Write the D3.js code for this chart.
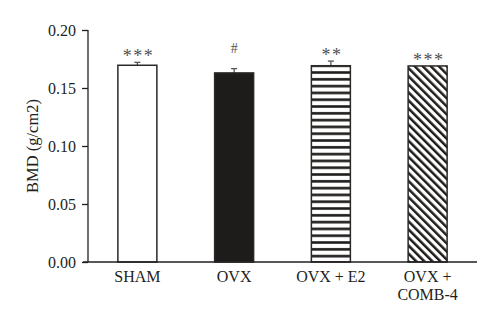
<!DOCTYPE html>
<html>
<head>
<meta charset="utf-8">
<script src="https://cdn.jsdelivr.net/npm/d3@7"></script>
<style>
  html, body { margin: 0; padding: 0; background: #fff; }
  svg { display: block; }
  text { font-family: "Liberation Serif", "Times New Roman", serif; fill: #231f20; }
</style>
</head>
<body>
<svg id="chart" width="500" height="324"></svg>
<script>
// Bone mineral density by treatment group
const groups = ["SHAM", "OVX", "OVX + E2", "OVX + COMB-4"];
const groupLines = [["SHAM"], ["OVX"], ["OVX + E2"], ["OVX +", "COMB-4"]];
const bmd = [0.1696, 0.1630, 0.1692, 0.1690];
const sem = [0.0025, 0.0037, 0.0040, 0.0000];
const marks = ["***", "#", "**", "***"];
const fills = ["white", "solid", "hstripe", "diag"];
const yTicks = [0, 0.05, 0.10, 0.15, 0.20];

const svg = d3.select("#chart");
const ink = "#231f20";

const y = d3.scaleLinear().domain([0, 0.20]).range([262, 30]);
const x = d3.scalePoint().domain(groups).range([89, 476]).padding(0.5);
const barW = 39;

// Fill patterns
const defs = svg.append("defs");
const hp = defs.append("pattern")
  .attr("id", "hstripe").attr("patternUnits", "userSpaceOnUse")
  .attr("width", 10).attr("height", 6.8)
  .attr("y", y(bmd[2]) + 1.5);
hp.append("rect").attr("width", 10).attr("height", 6.8).attr("fill", "#fff");
hp.append("rect").attr("y", 4).attr("width", 10).attr("height", 2.6).attr("fill", "#1e1c1a");

const dp = defs.append("pattern")
  .attr("id", "diag").attr("patternUnits", "userSpaceOnUse")
  .attr("width", 5.7).attr("height", 10)
  .attr("patternTransform", "rotate(-45)");
dp.append("rect").attr("width", 5.7).attr("height", 10).attr("fill", "#fff");
dp.append("rect").attr("x", 0).attr("width", 2.5).attr("height", 10).attr("fill", "#1e1c1a");

const fillOf = f => f === "white" ? "#fff" : f === "solid" ? "#1e1c1a" : `url(#${f})`;

// Y axis
const yAxis = d3.axisLeft(y).tickValues(yTicks).tickFormat(d3.format(".2f")).tickSize(6).tickPadding(6);
const gy = svg.append("g").attr("transform", "translate(88,0)").call(yAxis);
gy.attr("font-family", null).attr("font-size", null);
gy.select(".domain").attr("d", `M0,${y(0.20)}V${y(0)}`).attr("stroke", ink).attr("stroke-width", 1.3);
gy.selectAll(".tick line").attr("stroke", ink).attr("stroke-width", 1.3);
gy.selectAll(".tick text").style("font-size", "16px").attr("fill", ink);

// Y axis title
svg.append("text")
  .attr("transform", `translate(38,${y(0.10)}) rotate(-90)`)
  .attr("text-anchor", "middle").style("font-size", "16.5px")
  .text("BMD (g/cm2)");

// Bars
const bars = svg.append("g");
groups.forEach((g, i) => {
  const cx = x(g);
  // error bar (drawn first so the bar outline sits on top)
  if (sem[i] > 0) {
    bars.append("line")
      .attr("x1", cx).attr("x2", cx)
      .attr("y1", y(bmd[i])).attr("y2", y(bmd[i] + sem[i]))
      .attr("stroke", "#555").attr("stroke-width", 1.3);
    bars.append("line")
      .attr("x1", cx - 3).attr("x2", cx + 3)
      .attr("y1", y(bmd[i] + sem[i])).attr("y2", y(bmd[i] + sem[i]))
      .attr("stroke", "#555").attr("stroke-width", 1.3);
  }
  bars.append("rect")
    .attr("x", cx - barW / 2).attr("y", y(bmd[i]))
    .attr("width", barW).attr("height", y(0) - y(bmd[i]))
    .attr("fill", fillOf(fills[i]))
    .attr("stroke", "#2a2826").attr("stroke-width", 1.5);

  // significance markers
  const isHash = marks[i] === "#";
  bars.append("text")
    .attr("x", cx + (isHash ? 0 : 1)).attr("y", y(bmd[i] + sem[i]) - (isHash ? 16 : 0))
    .attr("text-anchor", "middle")
    .style("font-size", isHash ? "14px" : "18px")
    .attr("letter-spacing", isHash ? 0 : 1.5)
    .style("fill", "#505050")
    .text(marks[i]);
});

// X axis baseline
svg.append("line")
  .attr("x1", 83).attr("x2", 477).attr("y1", y(0)).attr("y2", y(0))
  .attr("stroke", ink).attr("stroke-width", 1.3);

// Category labels, one text element per line
groups.forEach((g, i) => {
  groupLines[i].forEach((line, j) => {
    svg.append("text")
      .attr("text-anchor", "middle").style("font-size", "16px")
      .attr("x", x(g)).attr("y", 282 + j * 17.5)
      .text(line);
  });
});
</script>
</body>
</html>
